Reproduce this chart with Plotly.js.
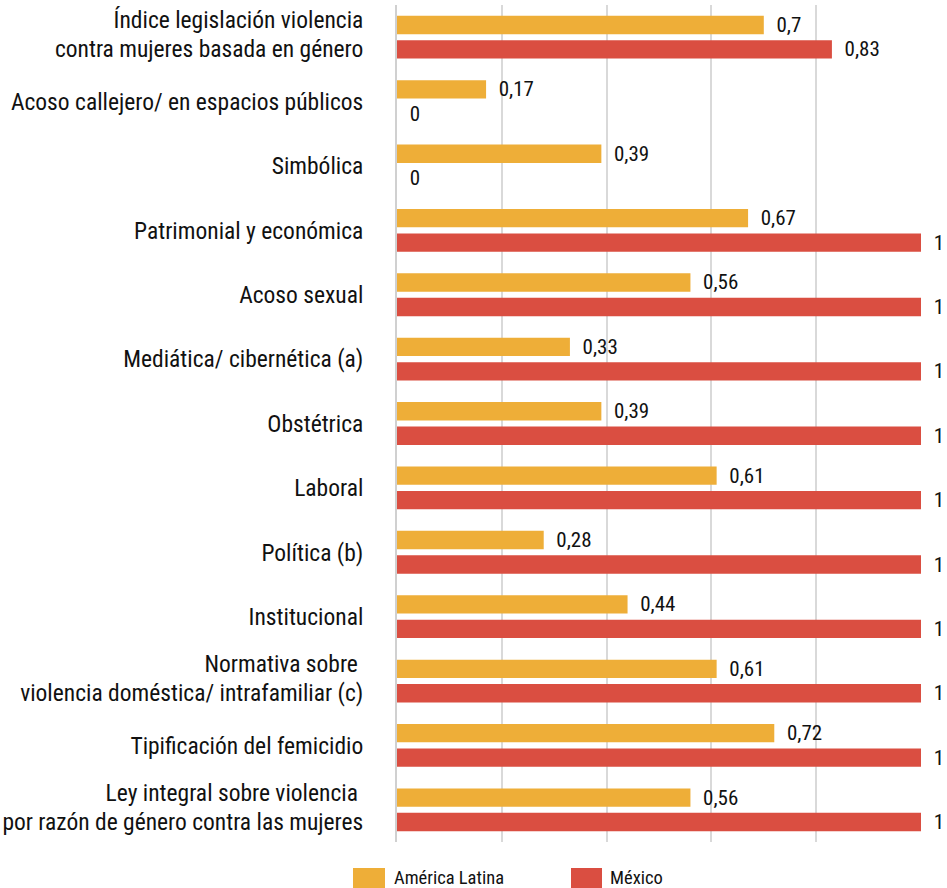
<!DOCTYPE html>
<html>
<head>
<meta charset="utf-8">
<script src="https://cdn.plot.ly/plotly-3.0.1.min.js"></script>
<style>html,body{margin:0;padding:0;background:#fff;}#chart{width:947px;height:888px;}</style>
</head>
<body>
<div id="chart"></div>
<script>
const categories = [
  "Índice legislación violencia<br>contra mujeres basada en género",
  "Acoso callejero/ en espacios públicos",
  "Simbólica",
  "Patrimonial y económica",
  "Acoso sexual",
  "Mediática/ cibernética (a)",
  "Obstétrica",
  "Laboral",
  "Política (b)",
  "Institucional",
  "Normativa sobre\u00a0<br>violencia doméstica/ intrafamiliar (c)",
  "Tipificación del femicidio",
  "Ley integral sobre violencia\u00a0<br>por razón de género contra las mujeres"
];
const seriesNames = ["América Latina", "México"];
const americaLatina = [0.7, 0.17, 0.39, 0.67, 0.56, 0.33, 0.39, 0.61, 0.28, 0.44, 0.61, 0.72, 0.56];
const mexico = [0.83, 0, 0, 1, 1, 1, 1, 1, 1, 1, 1, 1, 1];
const colors = ["#EEAE38", "#DA4E41"];

const FONT = "'Roboto Condensed', 'Liberation Sans Narrow', 'Arial Narrow', Roboto, sans-serif";
const fmt = v => "  " + String(v).replace(".", ",");

const mk = (name, vals, color) => ({
  type: "bar", orientation: "h", name: name,
  x: vals, y: categories,
  marker: {color: color},
  text: vals.map(fmt), textposition: "outside", cliponaxis: false,
  constraintext: "none",
  textfont: {family: FONT, size: 21, color: "#111"},
  hoverinfo: "x+name", showlegend: false
});

const data = [mk(seriesNames[0], americaLatina, colors[0]), mk(seriesNames[1], mexico, colors[1])];

const layout = {
  width: 947, height: 888,
  margin: {l: 397, r: 26, t: 5, b: 46},
  paper_bgcolor: "#fff", plot_bgcolor: "#fff",
  barmode: "group", bargap: 0.24, bargroupgap: 0.25,
  font: {family: FONT, size: 23.5, color: "#111"},
  separators: ",.",
  xaxis: {range: [0, 1], dtick: 0.2, showticklabels: false, showgrid: true,
          gridcolor: "#d9d9d9", gridwidth: 2, zeroline: false, showline: false, ticks: "", fixedrange: true},
  yaxis: {autorange: "reversed", type: "category", showgrid: false, zeroline: false,
          showline: true, linecolor: "#d0d0d0", linewidth: 2, ticks: "", ticklabelstandoff: 27,
          tickfont: {family: FONT, size: 23.5, color: "#111"}},
  shapes: [
    {type: "rect", xref: "paper", yref: "paper", x0: -44/524, x1: -12/524, y0: -46/837, y1: -26/837,
     fillcolor: colors[0], line: {width: 0}},
    {type: "rect", xref: "paper", yref: "paper", x0: 174/524, x1: 205/524, y0: -46/837, y1: -26/837,
     fillcolor: colors[1], line: {width: 0}}
  ],
  annotations: [
    {xref: "paper", yref: "paper", x: -5/524, y: -36/837, xanchor: "left", yanchor: "middle",
     text: seriesNames[0], showarrow: false, font: {family: FONT, size: 18.5, color: "#111"}},
    {xref: "paper", yref: "paper", x: 211/524, y: -36/837, xanchor: "left", yanchor: "middle",
     text: seriesNames[1], showarrow: false, font: {family: FONT, size: 18.5, color: "#111"}}
  ]
};

Plotly.newPlot("chart", data, layout, {displayModeBar: false, staticPlot: true}).then(function (gd) {
  // tighten line spacing of two-line category labels (slightly raised, as in the reference)
  gd.querySelectorAll(".ytick text").forEach(function (t) {
    const lines = t.querySelectorAll("tspan.line");
    if (lines.length === 2) {
      lines[0].setAttribute("dy", "-0.08em");
      lines[1].setAttribute("dy", "1.15em");
    }
  });
});
</script>
</body>
</html>
